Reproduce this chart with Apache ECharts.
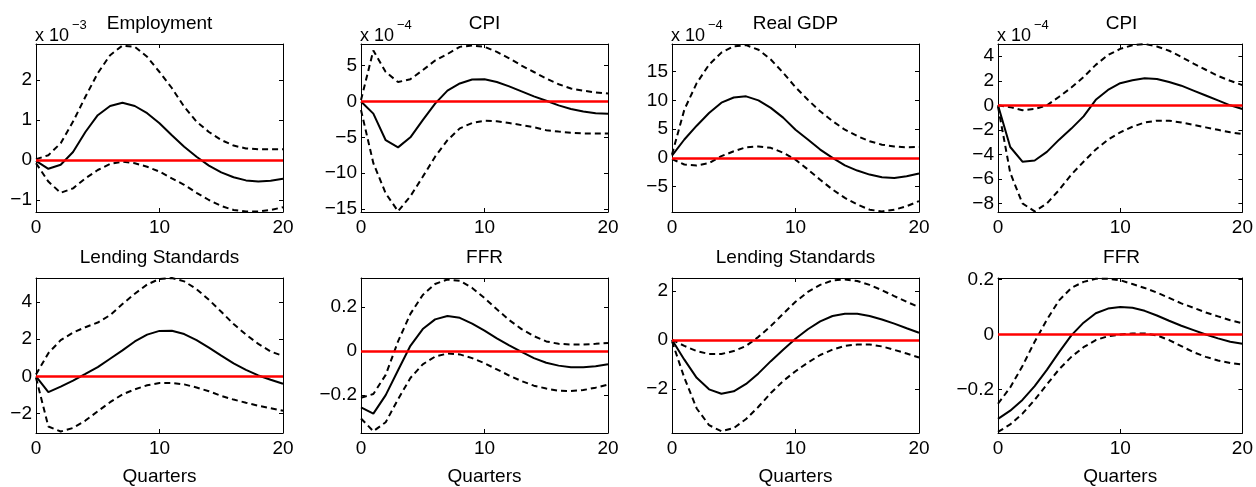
<!DOCTYPE html>
<html>
<head>
<meta charset="utf-8">
<title>Impulse responses</title>
<script src="https://cdn.jsdelivr.net/npm/echarts@6/dist/echarts.min.js"></script>
<style>
  html, body { margin: 0; padding: 0; background: #fff; }
  #chart { width: 1256px; height: 487px; }
</style>
</head>
<body>
<div id="chart"></div>
<script>
// Horizon in quarters
const quarters = [0,1,2,3,4,5,6,7,8,9,10,11,12,13,14,15,16,17,18,19,20];

// Panel titles and y-axis scale exponents (null = no exponent)
const panelTitles = ['Employment', 'CPI', 'Real GDP', 'CPI', 'Lending Standards', 'FFR', 'Lending Standards', 'FFR'];
const panelExponents = ['−3', '−4', '−4', '−4', null, null, null, null];

// Y-axis extents and tick labels per panel
const yMins = [-1.3, -15.4, -9.4, -8.7, -3.05, -0.372, -3.8, -0.357];
const yMaxs = [2.9, 8.0, 19.8, 5.0, 5.3, 0.332, 2.52, 0.205];
const yTicks = [
  [-1, 0, 1, 2],
  [-15, -10, -5, 0, 5],
  [-5, 0, 5, 10, 15],
  [-8, -6, -4, -2, 0, 2, 4],
  [-2, 0, 2, 4],
  [-0.2, 0, 0.2],
  [-2, 0, 2],
  [-0.2, 0, 0.2]
];
const xTicks = [0, 10, 20];

// Employment (x 10^-3)
const employmentMid = [-0.02,-0.22,-0.12,0.2,0.7,1.12,1.35,1.43,1.35,1.17,0.92,0.62,0.33,0.08,-0.14,-0.31,-0.43,-0.51,-0.54,-0.52,-0.47];
const employmentHi  = [0.02,0.12,0.42,0.96,1.58,2.17,2.62,2.86,2.83,2.58,2.2,1.8,1.33,0.96,0.7,0.5,0.36,0.29,0.27,0.27,0.27];
const employmentLo  = [-0.08,-0.54,-0.82,-0.71,-0.46,-0.25,-0.1,-0.04,-0.08,-0.17,-0.29,-0.46,-0.62,-0.82,-1.0,-1.15,-1.25,-1.29,-1.29,-1.25,-1.18];

// CPI, first shock (x 10^-4)
const cpiAMid = [0,-1.7,-5.4,-6.4,-5.0,-2.6,-0.3,1.5,2.5,3.05,3.1,2.7,2.1,1.4,0.7,0.1,-0.55,-1.05,-1.4,-1.65,-1.7];
const cpiAHi  = [0.2,7.1,4.1,2.7,3.1,4.35,5.7,6.6,7.6,7.8,7.6,6.9,6.0,5.0,4.1,3.2,2.4,1.8,1.5,1.25,1.1];
const cpiALo  = [-1.2,-8.6,-12.8,-15.3,-13.2,-10.5,-7.7,-5.4,-3.75,-3.0,-2.7,-2.75,-3.0,-3.3,-3.6,-4.0,-4.2,-4.35,-4.45,-4.45,-4.45];

// Real GDP (x 10^-4)
const gdpMid = [0.4,3.2,5.6,7.8,9.6,10.5,10.7,10.0,8.7,7.0,4.9,3.2,1.45,0,-1.3,-2.2,-2.9,-3.35,-3.5,-3.2,-2.7];
const gdpHi  = [0.6,8.4,13.0,16.2,18.3,19.4,19.6,18.8,17.1,14.8,12.3,10.1,8.1,6.4,4.9,3.8,2.9,2.3,2.0,1.85,1.9];
const gdpLo  = [-0.2,-1.15,-1.3,-0.9,0.3,1.15,1.85,2.0,1.75,0.9,-0.3,-2.0,-3.8,-5.5,-6.95,-8.1,-9.0,-9.3,-9.0,-8.4,-7.5];

// CPI, second shock (x 10^-4)
const cpiBMid = [0,-3.4,-4.6,-4.5,-3.8,-2.8,-1.9,-0.9,0.45,1.25,1.8,2.05,2.2,2.15,1.9,1.6,1.2,0.8,0.4,0,-0.3];
const cpiBHi  = [0,-0.15,-0.4,-0.3,0,0.7,1.45,2.3,3.3,4.1,4.6,4.9,5.0,4.8,4.45,3.95,3.4,2.9,2.4,2.0,1.65];
const cpiBLo  = [-0.1,-5.5,-8.0,-8.65,-8.0,-6.9,-5.65,-4.6,-3.6,-2.8,-2.2,-1.75,-1.4,-1.25,-1.25,-1.4,-1.6,-1.8,-2.0,-2.2,-2.35];

// Lending Standards, first shock
const lendAMid = [0,-0.85,-0.55,-0.23,0.13,0.5,0.95,1.4,1.88,2.25,2.45,2.46,2.28,1.95,1.55,1.12,0.7,0.35,0.05,-0.18,-0.4];
const lendAHi  = [0.1,1.25,1.95,2.36,2.65,2.9,3.3,3.9,4.45,4.95,5.25,5.3,5.12,4.7,4.13,3.48,2.82,2.25,1.75,1.34,1.1];
const lendALo  = [-0.07,-2.7,-2.97,-2.78,-2.38,-1.88,-1.39,-0.97,-0.7,-0.48,-0.36,-0.35,-0.43,-0.6,-0.8,-1.05,-1.25,-1.42,-1.58,-1.72,-1.85];

// FFR, first shock
const ffrAMid = [-0.256,-0.284,-0.2,-0.087,0.024,0.1,0.144,0.159,0.151,0.125,0.093,0.058,0.026,-0.004,-0.032,-0.053,-0.066,-0.073,-0.073,-0.069,-0.06];
const ffrAHi  = [-0.212,-0.195,-0.108,0.044,0.169,0.255,0.305,0.325,0.319,0.287,0.241,0.19,0.141,0.1,0.068,0.044,0.033,0.03,0.03,0.033,0.037];
const ffrALo  = [-0.306,-0.364,-0.323,-0.219,-0.122,-0.06,-0.025,-0.011,-0.015,-0.032,-0.055,-0.083,-0.111,-0.136,-0.157,-0.17,-0.18,-0.181,-0.177,-0.166,-0.152];

// Lending Standards, second shock
const lendBMid = [0,-0.81,-1.55,-2.02,-2.2,-2.1,-1.8,-1.37,-0.87,-0.41,0.04,0.43,0.75,0.97,1.06,1.06,0.97,0.83,0.66,0.47,0.29];
const lendBHi  = [0,-0.25,-0.46,-0.58,-0.58,-0.46,-0.25,0.12,0.56,1.06,1.55,1.95,2.24,2.42,2.46,2.4,2.24,2.02,1.78,1.55,1.33];
const lendBLo  = [-0.06,-1.55,-2.8,-3.48,-3.73,-3.6,-3.23,-2.73,-2.17,-1.68,-1.28,-0.93,-0.62,-0.4,-0.25,-0.19,-0.19,-0.27,-0.41,-0.56,-0.72];

// FFR, second shock
const ffrBMid = [-0.306,-0.276,-0.237,-0.187,-0.128,-0.064,-0.003,0.043,0.077,0.094,0.1,0.097,0.086,0.069,0.05,0.032,0.016,0,-0.014,-0.026,-0.033];
const ffrBHi  = [-0.251,-0.192,-0.114,-0.026,0.054,0.124,0.169,0.191,0.202,0.202,0.197,0.183,0.169,0.152,0.133,0.113,0.097,0.08,0.066,0.052,0.041];
const ffrBLo  = [-0.353,-0.326,-0.287,-0.237,-0.181,-0.126,-0.081,-0.046,-0.02,-0.006,0,0.004,0.004,-0.003,-0.02,-0.042,-0.064,-0.081,-0.094,-0.103,-0.109];

const panelBands = [
  [employmentMid, employmentHi, employmentLo],
  [cpiAMid, cpiAHi, cpiALo],
  [gdpMid, gdpHi, gdpLo],
  [cpiBMid, cpiBHi, cpiBLo],
  [lendAMid, lendAHi, lendALo],
  [ffrAMid, ffrAHi, ffrALo],
  [lendBMid, lendBHi, lendBLo],
  [ffrBMid, ffrBHi, ffrBLo]
];

// Layout of the 2 x 4 panel grid
const colLefts = [36, 361, 672, 998];
const rowTops = [44, 278];
const plotW = 247;
const rowHeights = [168, 169];
const titleTops = [14, 248];

const FONT = 'Liberation Sans, Arial, Helvetica, sans-serif';
const minus = v => String(v).replace('-', '\u2212');

const grids = [], xAxes = [], yAxes = [], series = [], titles = [], graphics = [];

panelBands.forEach((band, i) => {
  const row = Math.floor(i / 4), col = i % 4;
  const left = colLefts[col], top = rowTops[row], height = rowHeights[row];
  grids.push({ left: left, top: top, width: plotW, height: height, containLabel: false });

  const tickStyle = { inside: true, length: 4, lineStyle: { color: '#000', width: 1 } };
  const lineStyle = { show: true, onZero: false, lineStyle: { color: '#000', width: 1 } };

  xAxes.push({
    type: 'value', gridIndex: i, min: 0, max: 20, position: 'bottom',
    axisLine: lineStyle,
    axisTick: Object.assign({ customValues: xTicks }, tickStyle),
    axisLabel: { customValues: xTicks, color: '#000', fontSize: 19, fontFamily: FONT, margin: 6 },
    splitLine: { show: false },
    name: row === 1 ? 'Quarters' : '', nameLocation: 'middle', nameGap: 34,
    nameTextStyle: { color: '#000', fontSize: 19, fontFamily: FONT }
  });
  xAxes.push({
    type: 'value', gridIndex: i, min: 0, max: 20, position: 'top',
    axisLine: lineStyle,
    axisTick: Object.assign({ customValues: xTicks }, tickStyle),
    axisLabel: { show: false }, splitLine: { show: false }
  });
  yAxes.push({
    type: 'value', gridIndex: i, min: yMins[i], max: yMaxs[i], position: 'left',
    axisLine: lineStyle,
    axisTick: Object.assign({ customValues: yTicks[i] }, tickStyle),
    axisLabel: { customValues: yTicks[i], formatter: minus, color: '#000', fontSize: 19, fontFamily: FONT, margin: 4 },
    splitLine: { show: false }
  });
  yAxes.push({
    type: 'value', gridIndex: i, min: yMins[i], max: yMaxs[i], position: 'right',
    axisLine: lineStyle,
    axisTick: Object.assign({ customValues: yTicks[i] }, tickStyle),
    axisLabel: { show: false }, splitLine: { show: false }
  });

  const pts = arr => quarters.map((q, k) => [q, arr[k]]);
  const base = { type: 'line', xAxisIndex: 2 * i, yAxisIndex: 2 * i, symbol: 'none', silent: true, animation: false };
  series.push(Object.assign({}, base, { data: pts(band[1]), lineStyle: { color: '#000', width: 2, type: [6, 4] }, z: 2 }));
  series.push(Object.assign({}, base, { data: pts(band[2]), lineStyle: { color: '#000', width: 2, type: [6, 4] }, z: 2 }));
  series.push(Object.assign({}, base, { data: pts(band[0]), lineStyle: { color: '#000', width: 2 }, z: 3 }));
  // zero reference line
  series.push(Object.assign({}, base, {
    data: [], z: 4,
    markLine: { silent: true, symbol: 'none', label: { show: false }, animation: false,
      lineStyle: { color: '#ff0000', width: 2.5, type: 'solid' }, data: [{ yAxis: 0 }] }
  }));

  titles.push({
    text: panelTitles[i], left: left + plotW / 2, top: titleTops[row], textAlign: 'center', padding: 0,
    textStyle: { color: '#000', fontSize: 19, fontWeight: 'normal', fontFamily: FONT }
  });

  if (panelExponents[i]) {
    graphics.push({ type: 'text', x: left - 1, y: 45, silent: true,
      style: { text: 'x 10', fill: '#000', font: '18px ' + FONT, align: 'left', verticalAlign: 'bottom' } });
    graphics.push({ type: 'text', x: left + 36, y: 19, silent: true,
      style: { text: panelExponents[i], fill: '#000', font: '13px ' + FONT, align: 'left', verticalAlign: 'top' } });
  }
});

const chart = echarts.init(document.getElementById('chart'), null, { renderer: 'canvas' });
chart.setOption({
  backgroundColor: '#fff',
  animation: false,
  title: titles,
  grid: grids,
  xAxis: xAxes,
  yAxis: yAxes,
  series: series,
  graphic: graphics
});
</script>
</body>
</html>
